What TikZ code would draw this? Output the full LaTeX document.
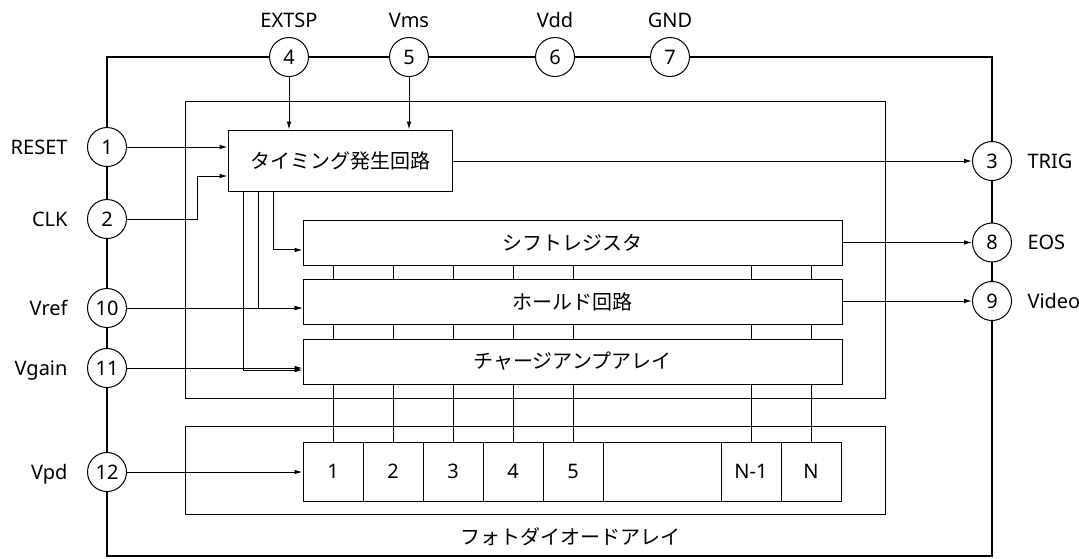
\documentclass[tikz,border=0pt]{standalone}
\usepackage{fontspec}
\setmainfont{Noto Sans}
\newfontfamily\jpfont{Noto Sans CJK JP}
\usetikzlibrary{arrows.meta}

\tikzset{every picture/.style={line width=0.75pt}}

\begin{document}
\begin{tikzpicture}[x=0.75pt,y=0.75pt,yscale=-1,xscale=1,
	pin/.style={draw, circle, fill=white, minimum size=29.25pt, inner sep=0pt, font=\fontsize{15}{18}\selectfont},
	pinlabel/.style={inner sep=0pt, text height=10.7pt, text depth=0pt, font=\fontsize{15}{18}\selectfont},
	blk/.style={draw, rectangle, inner sep=0pt, font=\fontsize{15}{18}\selectfont\jpfont},
	cell/.style={draw, rectangle, inner sep=0pt, minimum width=45pt, minimum height=44.25pt, font=\fontsize{15}{18}\selectfont},
	arr/.style={-{Latex[length=6pt,width=3.5pt]}}]
	\useasboundingbox (0,0) rectangle (1079,558);

	%Shape: Rectangle [package outline]
	\draw [line width=1.5pt] (107,57) rectangle (992,556);
	%Shape: Rectangle [readout frame]
	\draw (185,101) rectangle (885,398);
	%Shape: Rectangle [photodiode frame]
	\draw (185,426) rectangle (885,514);

	% Blocks
	\node [blk, minimum width=168pt, minimum height=45.75pt] (timing) at (340,160.5) {タイミング発生回路};
	\node [blk, minimum width=404.25pt, minimum height=33.75pt] (shift) at (572.5,242.5) {シフトレジスタ};
	\node [blk, minimum width=404.25pt, minimum height=33.75pt] (hold) at (572.5,301.5) {ホールド回路};
	\node [blk, minimum width=404.25pt, minimum height=33.75pt] (charge) at (572.5,361.5) {チャージアンプアレイ};

	% Photodiode cells
	\node [cell] (c1) at (333,471.5) {1};
	\node [cell] (c2) at (393,471.5) {2};
	\node [cell] (c3) at (453,471.5) {3};
	\node [cell] (c4) at (513,471.5) {4};
	\node [cell] (c5) at (573,471.5) {5};
	\node [cell, minimum width=88.5pt] (c6) at (662,471.5) {};
	\node [cell] (c7) at (751,471.5) {N-1};
	\node [cell] (c8) at (811,471.5) {N};

	% Text Node
	\node [font=\fontsize{15}{18}\selectfont\jpfont] (lpd) at (570,537) {フォトダイオードアレイ};

	% Pins
	\node [pin] (p1) at (107,147) {1};
	\node [pin] (p2) at (107,219) {2};
	\node [pin] (p10) at (107,308) {10};
	\node [pin] (p11) at (107,368) {11};
	\node [pin] (p12) at (107,472) {12};
	\node [pin] (p4) at (289,57) {4};
	\node [pin] (p5) at (409,57) {5};
	\node [pin] (p6) at (555,57) {6};
	\node [pin] (p7) at (670,57) {7};
	\node [pin] (p3) at (992,161) {3};
	\node [pin] (p8) at (992,242.5) {8};
	\node [pin] (p9) at (992,301) {9};

	% Text Node
	\node [pinlabel] (lextsp) at (289,20.5) {EXTSP};
	\node [pinlabel] (lvms) at (409,20.5) {Vms};
	\node [pinlabel] (lvdd) at (555,20.5) {Vdd};
	\node [pinlabel] (lgnd) at (670,20.5) {GND};
	\node [pinlabel, anchor=east] (lreset) at (68,147) {RESET};
	\node [pinlabel, anchor=east] (lclk) at (68,219) {CLK};
	\node [pinlabel, anchor=east] (lvref) at (68,308) {Vref};
	\node [pinlabel, anchor=east] (lvgain) at (68,368) {Vgain};
	\node [pinlabel, anchor=east] (lvpd) at (68,472) {Vpd};
	\node [pinlabel, anchor=west] (ltrig) at (1027,161) {TRIG};
	\node [pinlabel, anchor=west] (leos) at (1027,242.5) {EOS};
	\node [pinlabel, anchor=west] (lvideo) at (1027,301) {Video};

	% Inputs
	\draw [arr] (p4) -- (p4 |- timing.north);
	\draw [arr] (p5) -- (p5 |- timing.north);
	\draw [arr] (p1) -- (timing.west |- p1);
	\coordinate (clkbend) at (197,176);
	\draw [arr] (p2) -| (clkbend) -- (timing.west |- clkbend);
	\draw [arr] (p10) -- (hold.west |- p10);
	\draw [arr] (p11) -- (charge.west |- p11);
	\draw [arr] (p12) -- (c1.west |- p12);

	% Outputs
	\draw [arr] (timing.east |- p3) -- (p3);
	\draw [arr] (shift.east |- p8) -- (p8);
	\draw [arr] (hold.east |- p9) -- (p9);

	% Timing control lines
	\draw [arr] ([xshift=12pt]timing.south west) |- ([yshift=6.4pt]charge.west);
	\draw [arr] ([xshift=23.25pt]timing.south west) |- ([yshift=4.9pt]hold.west);
	\draw [arr] ([xshift=34.5pt]timing.south west) |- ([yshift=5.6pt]shift.west);

	% Channel links
	\foreach \c in {c1,c2,c3,c4,c5,c7,c8} {
		\draw (\c.north |- shift.south) -- (\c.north |- hold.north);
		\draw (\c.north |- hold.south) -- (\c.north |- charge.north);
		\draw (\c.north |- charge.south) -- (\c.north);
	}

\end{tikzpicture}
\end{document}
